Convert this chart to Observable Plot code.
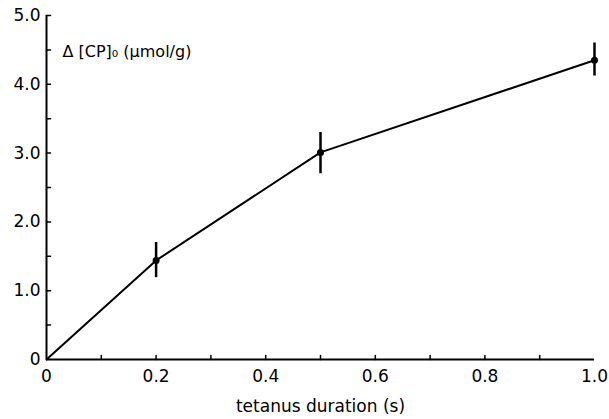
<!DOCTYPE html>
<html>
<head>
<meta charset="utf-8">
<script src="https://cdn.jsdelivr.net/npm/d3@7"></script>
<script src="https://cdn.jsdelivr.net/npm/@observablehq/plot@0.6"></script>
<style>
  html, body { margin: 0; padding: 0; background: #fff; }
  svg { display: block; }
</style>
</head>
<body>
<div id="chart"></div>
<script>
const duration = [0, 0.2, 0.5, 1.0];
const deltaCP = [0, 1.44, 3.01, 4.35];
const errLow = [0, 1.19, 2.70, 4.12];
const errHigh = [0, 1.70, 3.30, 4.60];
const xTickValues = [0, 0.2, 0.4, 0.6, 0.8, 1.0];
const xTickLabels = ["0", "0.2", "0.4", "0.6", "0.8", "1.0"];
const xMinorTicks = [0.1, 0.2, 0.3, 0.4, 0.5, 0.6, 0.7, 0.8, 0.9];
const yTickValues = [0, 1, 2, 3, 4, 5];
const yTickLabels = ["0", "1.0", "2.0", "3.0", "4.0", "5.0"];
const yMinorTicks = [0.5, 1, 1.5, 2, 2.5, 3, 3.5, 4, 4.5, 5];
const yLabel = "Δ [CP]₀ (μmol/g)";
const xLabel = "tetanus duration (s)";

const points = duration.map((d, i) => ({x: d, y: deltaCP[i], lo: errLow[i], hi: errHigh[i]}));
const bars = points.filter(p => p.hi > p.lo);

const tickShape = {
  draw(context, l) {
    context.moveTo(0, 0);
    context.lineTo(0, -l);
  }
};

const chart = Plot.plot({
  width: 609,
  height: 419,
  marginLeft: 46,
  marginRight: 15,
  marginTop: 15,
  marginBottom: 60,
  style: {fontFamily: "DejaVu Sans, sans-serif", color: "#000", background: "#fff"},
  x: {domain: [0, 1]},
  y: {domain: [0, 5]},
  marks: [
    Plot.axisX({ticks: xTickValues, tickSize: 0, tickPadding: 10,
      tickFormat: (d) => xTickLabels[xTickValues.indexOf(d)], fontSize: 17,
      label: xLabel, labelAnchor: "center", labelArrow: "none", labelOffset: 52}),
    Plot.axisY({ticks: yTickValues, tickSize: 0, tickPadding: 6,
      tickFormat: (d) => yTickLabels[yTickValues.indexOf(d)], fontSize: 17, label: null}),
    Plot.vector(xMinorTicks, {x: (d) => d, frameAnchor: "bottom", length: 4, rotate: 0,
      anchor: "start", shape: tickShape, stroke: "#000", strokeWidth: 1.5}),
    Plot.vector(yMinorTicks, {y: (d) => d, frameAnchor: "left", length: 4, rotate: 90,
      anchor: "start", shape: tickShape, stroke: "#000", strokeWidth: 1.5}),
    Plot.ruleX([0], {y1: 0, y2: 5, strokeWidth: 2}),
    Plot.ruleY([0], {x1: 0, x2: 1, strokeWidth: 2}),
    Plot.line(points, {x: "x", y: "y", strokeWidth: 2}),
    Plot.ruleX(bars, {x: "x", y1: "lo", y2: "hi", strokeWidth: 2.5}),
    Plot.dot(points.filter(p => p.x > 0), {x: "x", y: "y", r: 3.5, fill: "#000"}),
    Plot.text([yLabel], {frameAnchor: "top-left", dx: 16, dy: 30, fontSize: 16, textAnchor: "start"})
  ]
});
document.getElementById("chart").append(chart);
</script>
</body>
</html>
